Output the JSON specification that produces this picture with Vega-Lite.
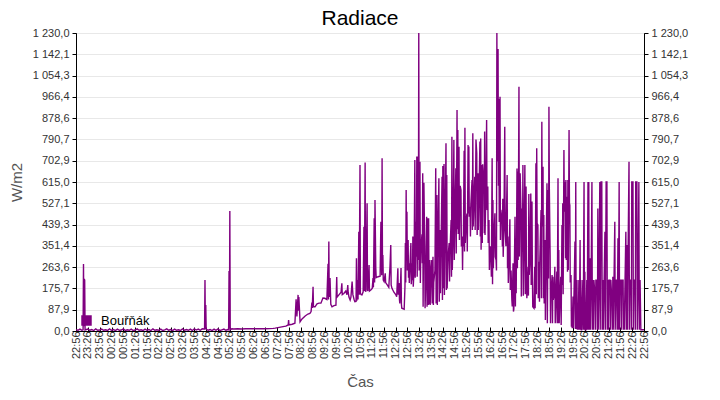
{
  "$schema": "https://vega.github.io/schema/vega-lite/v6.json",
  "width": 568,
  "height": 298,
  "autosize": "none",
  "padding": {"left": 76, "top": 33, "right": 76, "bottom": 69},
  "title": {"text": "Radiace", "fontSize": 21, "font": "Liberation Sans", "fontWeight": "normal", "color": "#000", "offset": -2, "anchor": "middle"},
  "data": {
    "values": [
      {"t":0,"v":5},{"t":5,"v":3},{"t":10,"v":8},{"t":15,"v":3},{"t":18,"v":5},{"t":19,"v":277},{"t":20,"v":20},{"t":21,"v":215},{"t":22,"v":210},{"t":23,"v":4},
      {"t":30,"v":8},{"t":35,"v":3},{"t":40,"v":6},{"t":45,"v":2},{"t":50,"v":9},{"t":55,"v":3},{"t":60,"v":4},{"t":65,"v":8},{"t":70,"v":3},{"t":75,"v":5},
      {"t":80,"v":2},{"t":85,"v":9},{"t":90,"v":3},{"t":95,"v":6},{"t":100,"v":2},{"t":105,"v":8},{"t":110,"v":3},{"t":115,"v":4},{"t":120,"v":9},{"t":125,"v":2},
      {"t":130,"v":5},{"t":135,"v":3},{"t":140,"v":8},{"t":145,"v":2},{"t":150,"v":4},{"t":155,"v":9},{"t":160,"v":3},{"t":165,"v":5},{"t":170,"v":2},{"t":175,"v":8},
      {"t":180,"v":3},{"t":185,"v":6},{"t":190,"v":2},{"t":195,"v":9},{"t":200,"v":3},{"t":205,"v":5},{"t":210,"v":3},{"t":215,"v":8},{"t":220,"v":2},{"t":225,"v":5},
      {"t":230,"v":9},{"t":235,"v":3},{"t":240,"v":6},{"t":245,"v":2},{"t":250,"v":8},{"t":255,"v":3},{"t":260,"v":5},{"t":265,"v":2},{"t":270,"v":9},{"t":275,"v":3},
      {"t":280,"v":6},{"t":285,"v":3},{"t":290,"v":8},{"t":295,"v":2},{"t":300,"v":9},{"t":305,"v":4},{"t":310,"v":8},{"t":315,"v":3},{"t":320,"v":9},{"t":325,"v":8},
      {"t":326,"v":8},{"t":327,"v":210},{"t":328,"v":8},{"t":329,"v":107},{"t":330,"v":8},{"t":335,"v":3},{"t":340,"v":6},{"t":345,"v":2},{"t":350,"v":8},{"t":355,"v":3},
      {"t":360,"v":9},{"t":365,"v":2},{"t":370,"v":5},{"t":375,"v":8},{"t":380,"v":3},{"t":385,"v":6},{"t":387,"v":5},{"t":388,"v":248},{"t":389,"v":10},{"t":390,"v":495},
      {"t":391,"v":5},{"t":395,"v":9},{"t":400,"v":8},{"t":410,"v":9},{"t":420,"v":8},{"t":430,"v":9},{"t":440,"v":9},{"t":450,"v":9},{"t":460,"v":9},{"t":470,"v":9},
      {"t":480,"v":9},{"t":490,"v":10},{"t":500,"v":11},{"t":505,"v":12},{"t":512,"v":14},{"t":525,"v":18},{"t":532,"v":20},{"t":538,"v":25},{"t":539,"v":45},{"t":540,"v":25},
      {"t":548,"v":28},{"t":555,"v":32},{"t":558,"v":131},{"t":560,"v":60},{"t":563,"v":149},{"t":564,"v":84},{"t":565,"v":140},{"t":568,"v":38},{"t":573,"v":50},{"t":581,"v":62},
      {"t":588,"v":70},{"t":593,"v":73},{"t":596,"v":80},{"t":598,"v":117},{"t":599,"v":95},{"t":601,"v":183},{"t":602,"v":100},{"t":606,"v":100},{"t":611,"v":112},{"t":616,"v":115},
      {"t":621,"v":115},{"t":626,"v":136},{"t":631,"v":135},{"t":636,"v":130},{"t":639,"v":277},{"t":640,"v":130},{"t":641,"v":369},{"t":642,"v":140},{"t":644,"v":219},{"t":646,"v":110},
      {"t":649,"v":100},{"t":654,"v":105},{"t":659,"v":107},{"t":661,"v":223},{"t":662,"v":140},{"t":667,"v":150},{"t":672,"v":160},{"t":674,"v":197},{"t":675,"v":150},{"t":679,"v":155},
      {"t":684,"v":165},{"t":687,"v":150},{"t":689,"v":190},{"t":690,"v":160},{"t":692,"v":140},{"t":695,"v":128},{"t":697,"v":140},{"t":700,"v":204},{"t":702,"v":150},{"t":705,"v":130},
      {"t":707,"v":121},{"t":710,"v":122},{"t":711,"v":300},{"t":712,"v":125},{"t":713,"v":210},{"t":715,"v":130},{"t":717,"v":410},{"t":718,"v":150},{"t":720,"v":685},{"t":721,"v":155},
      {"t":723,"v":150},{"t":725,"v":149},{"t":728,"v":162},{"t":730,"v":430},{"t":731,"v":165},{"t":733,"v":695},{"t":734,"v":162},{"t":735,"v":165},{"t":738,"v":527},{"t":739,"v":170},
      {"t":740,"v":165},{"t":743,"v":272},{"t":744,"v":165},{"t":748,"v":170},{"t":751,"v":176},{"t":753,"v":219},{"t":754,"v":180},{"t":756,"v":465},{"t":757,"v":200},{"t":758,"v":541},
      {"t":760,"v":261},{"t":761,"v":220},{"t":766,"v":224},{"t":771,"v":226},{"t":773,"v":451},{"t":775,"v":230},{"t":776,"v":713},{"t":777,"v":260},{"t":778,"v":314},{"t":779,"v":210},
      {"t":781,"v":204},{"t":784,"v":238},{"t":785,"v":200},{"t":789,"v":190},{"t":791,"v":185},{"t":793,"v":180},{"t":796,"v":265},{"t":798,"v":355},{"t":799,"v":190},{"t":801,"v":176},
      {"t":806,"v":160},{"t":811,"v":149},{"t":813,"v":142},{"t":816,"v":259},{"t":817,"v":150},{"t":819,"v":198},{"t":820,"v":130},{"t":821,"v":114},{"t":824,"v":260},{"t":825,"v":110},
      {"t":826,"v":94},{"t":832,"v":90},{"t":834,"v":183},{"t":835,"v":363},{"t":836,"v":200},{"t":837,"v":582},{"t":838,"v":300},{"t":839,"v":492},{"t":840,"v":250},{"t":842,"v":376},
      {"t":843,"v":220},{"t":844,"v":280},{"t":845,"v":198},{"t":849,"v":363},{"t":850,"v":193},{"t":852,"v":280},{"t":853,"v":210},{"t":854,"v":390},{"t":855,"v":183},{"t":857,"v":250},
      {"t":859,"v":706},{"t":860,"v":220},{"t":862,"v":451},{"t":863,"v":306},{"t":864,"v":720},{"t":865,"v":224},{"t":867,"v":720},{"t":868,"v":293},{"t":869,"v":1230},{"t":870,"v":250},
      {"t":872,"v":699},{"t":873,"v":198},{"t":874,"v":320},{"t":877,"v":399},{"t":878,"v":280},{"t":879,"v":651},{"t":880,"v":100},{"t":882,"v":612},{"t":884,"v":355},{"t":885,"v":94},
      {"t":887,"v":220},{"t":889,"v":472},{"t":890,"v":100},{"t":892,"v":465},{"t":893,"v":107},{"t":894,"v":465},{"t":895,"v":110},{"t":897,"v":293},{"t":898,"v":107},{"t":900,"v":250},
      {"t":902,"v":293},{"t":903,"v":114},{"t":905,"v":306},{"t":906,"v":107},{"t":907,"v":200},{"t":910,"v":250},{"t":912,"v":672},{"t":913,"v":114},{"t":915,"v":561},{"t":916,"v":107},
      {"t":917,"v":300},{"t":920,"v":630},{"t":921,"v":121},{"t":923,"v":417},{"t":924,"v":156},{"t":925,"v":300},{"t":928,"v":637},{"t":929,"v":128},{"t":930,"v":681},{"t":931,"v":176},
      {"t":933,"v":689},{"t":934,"v":149},{"t":935,"v":300},{"t":938,"v":775},{"t":939,"v":169},{"t":940,"v":644},{"t":941,"v":176},{"t":943,"v":300},{"t":946,"v":363},{"t":947,"v":204},
      {"t":948,"v":320},{"t":951,"v":458},{"t":952,"v":224},{"t":953,"v":802},{"t":954,"v":252},{"t":956,"v":400},{"t":958,"v":788},{"t":959,"v":293},{"t":961,"v":500},{"t":963,"v":672},
      {"t":964,"v":320},{"t":966,"v":912},{"t":967,"v":420},{"t":968,"v":830},{"t":969,"v":400},{"t":971,"v":761},{"t":972,"v":376},{"t":974,"v":599},{"t":976,"v":582},{"t":977,"v":349},
      {"t":979,"v":390},{"t":980,"v":252},{"t":981,"v":390},{"t":982,"v":349},{"t":984,"v":744},{"t":985,"v":328},{"t":986,"v":839},{"t":987,"v":363},{"t":989,"v":450},{"t":991,"v":485},
      {"t":992,"v":328},{"t":994,"v":768},{"t":995,"v":485},{"t":996,"v":761},{"t":997,"v":472},{"t":999,"v":513},{"t":1000,"v":390},{"t":1001,"v":520},{"t":1004,"v":623},{"t":1005,"v":417},
      {"t":1006,"v":816},{"t":1007,"v":431},{"t":1009,"v":550},{"t":1011,"v":637},{"t":1012,"v":417},{"t":1014,"v":790},{"t":1016,"v":734},{"t":1017,"v":396},{"t":1019,"v":651},{"t":1020,"v":417},
      {"t":1021,"v":500},{"t":1024,"v":782},{"t":1025,"v":390},{"t":1026,"v":795},{"t":1027,"v":335},{"t":1029,"v":685},{"t":1030,"v":363},{"t":1031,"v":688},{"t":1034,"v":610},{"t":1035,"v":403},
      {"t":1036,"v":823},{"t":1037,"v":396},{"t":1039,"v":560},{"t":1041,"v":871},{"t":1042,"v":499},{"t":1044,"v":596},{"t":1045,"v":363},{"t":1047,"v":458},{"t":1048,"v":252},{"t":1050,"v":350},
      {"t":1052,"v":314},{"t":1053,"v":224},{"t":1055,"v":713},{"t":1056,"v":193},{"t":1057,"v":541},{"t":1058,"v":259},{"t":1060,"v":400},{"t":1062,"v":486},{"t":1063,"v":306},{"t":1065,"v":293},
      {"t":1066,"v":250},{"t":1067,"v":1230},{"t":1068,"v":700},{"t":1070,"v":1164},{"t":1071,"v":600},{"t":1072,"v":958},{"t":1073,"v":450},{"t":1075,"v":967},{"t":1076,"v":376},{"t":1077,"v":500},
      {"t":1080,"v":458},{"t":1081,"v":349},{"t":1082,"v":546},{"t":1083,"v":306},{"t":1085,"v":450},{"t":1087,"v":843},{"t":1088,"v":417},{"t":1090,"v":350},{"t":1093,"v":644},{"t":1094,"v":259},
      {"t":1095,"v":390},{"t":1096,"v":198},{"t":1098,"v":300},{"t":1100,"v":461},{"t":1101,"v":169},{"t":1103,"v":250},{"t":1105,"v":128},{"t":1106,"v":101},{"t":1108,"v":280},{"t":1109,"v":80},
      {"t":1110,"v":90},{"t":1113,"v":472},{"t":1114,"v":101},{"t":1115,"v":383},{"t":1116,"v":156},{"t":1118,"v":671},{"t":1119,"v":259},{"t":1120,"v":658},{"t":1121,"v":293},{"t":1123,"v":1008},
      {"t":1124,"v":307},{"t":1126,"v":651},{"t":1128,"v":506},{"t":1129,"v":142},{"t":1131,"v":506},{"t":1132,"v":327},{"t":1133,"v":685},{"t":1134,"v":146},{"t":1136,"v":400},{"t":1138,"v":685},
      {"t":1139,"v":152},{"t":1141,"v":596},{"t":1142,"v":200},{"t":1143,"v":135},{"t":1146,"v":265},{"t":1147,"v":146},{"t":1148,"v":565},{"t":1149,"v":231},{"t":1151,"v":300},{"t":1153,"v":568},
      {"t":1154,"v":190},{"t":1156,"v":534},{"t":1157,"v":245},{"t":1158,"v":100},{"t":1161,"v":94},{"t":1163,"v":265},{"t":1164,"v":94},{"t":1166,"v":692},{"t":1167,"v":152},{"t":1168,"v":754},
      {"t":1169,"v":445},{"t":1171,"v":438},{"t":1172,"v":135},{"t":1174,"v":286},{"t":1175,"v":121},{"t":1176,"v":300},{"t":1179,"v":499},{"t":1180,"v":135},{"t":1181,"v":864},{"t":1182,"v":431},
      {"t":1184,"v":678},{"t":1185,"v":135},{"t":1186,"v":479},{"t":1187,"v":114},{"t":1189,"v":376},{"t":1190,"v":45},{"t":1191,"v":200},{"t":1194,"v":610},{"t":1195,"v":32},{"t":1197,"v":582},
      {"t":1198,"v":217},{"t":1199,"v":926},{"t":1200,"v":589},{"t":1202,"v":314},{"t":1203,"v":32},{"t":1204,"v":150},{"t":1207,"v":231},{"t":1208,"v":32},{"t":1209,"v":224},{"t":1210,"v":128},
      {"t":1212,"v":150},{"t":1214,"v":265},{"t":1215,"v":32},{"t":1217,"v":150},{"t":1219,"v":245},{"t":1220,"v":32},{"t":1222,"v":630},{"t":1223,"v":32},{"t":1224,"v":334},{"t":1225,"v":32},
      {"t":1227,"v":150},{"t":1229,"v":224},{"t":1230,"v":25},{"t":1232,"v":438},{"t":1233,"v":190},{"t":1234,"v":527},{"t":1235,"v":152},{"t":1237,"v":747},{"t":1238,"v":492},{"t":1240,"v":615},
      {"t":1241,"v":300},{"t":1242,"v":623},{"t":1243,"v":293},{"t":1245,"v":554},{"t":1246,"v":245},{"t":1247,"v":623},{"t":1248,"v":252},{"t":1250,"v":830},{"t":1251,"v":527},{"t":1252,"v":520},
      {"t":1253,"v":200},{"t":1255,"v":231},{"t":1256,"v":18},{"t":1257,"v":73},{"t":1258,"v":11},{"t":1260,"v":142},{"t":1261,"v":11},{"t":1262,"v":100},{"t":1265,"v":369},{"t":1266,"v":8},
      {"t":1267,"v":615},{"t":1268,"v":8},{"t":1270,"v":210},{"t":1271,"v":5},{"t":1272,"v":107},{"t":1273,"v":5},{"t":1275,"v":210},{"t":1276,"v":5},{"t":1278,"v":376},{"t":1279,"v":5},
      {"t":1280,"v":210},{"t":1281,"v":5},{"t":1282,"v":5},{"t":1285,"v":210},{"t":1286,"v":5},{"t":1288,"v":615},{"t":1289,"v":5},{"t":1290,"v":245},{"t":1291,"v":5},{"t":1293,"v":5},
      {"t":1295,"v":210},{"t":1296,"v":5},{"t":1298,"v":615},{"t":1299,"v":5},{"t":1300,"v":615},{"t":1301,"v":5},{"t":1303,"v":300},{"t":1304,"v":5},{"t":1306,"v":210},{"t":1308,"v":615},
      {"t":1309,"v":5},{"t":1311,"v":210},{"t":1312,"v":5},{"t":1313,"v":210},{"t":1316,"v":142},{"t":1317,"v":5},{"t":1318,"v":210},{"t":1321,"v":210},{"t":1322,"v":5},{"t":1323,"v":506},
      {"t":1324,"v":5},{"t":1326,"v":210},{"t":1328,"v":615},{"t":1329,"v":5},{"t":1331,"v":615},{"t":1333,"v":615},{"t":1334,"v":5},{"t":1336,"v":210},{"t":1337,"v":5},{"t":1339,"v":210},
      {"t":1341,"v":410},{"t":1342,"v":5},{"t":1344,"v":615},{"t":1346,"v":615},{"t":1347,"v":5},{"t":1349,"v":210},{"t":1350,"v":5},{"t":1351,"v":210},{"t":1354,"v":210},{"t":1355,"v":5},
      {"t":1356,"v":210},{"t":1359,"v":107},{"t":1360,"v":5},{"t":1361,"v":224},{"t":1362,"v":5},{"t":1364,"v":210},{"t":1366,"v":451},{"t":1367,"v":5},{"t":1369,"v":210},{"t":1371,"v":210},
      {"t":1372,"v":5},{"t":1374,"v":383},{"t":1375,"v":5},{"t":1377,"v":615},{"t":1378,"v":5},{"t":1379,"v":210},{"t":1382,"v":210},{"t":1383,"v":5},{"t":1384,"v":210},{"t":1387,"v":210},
      {"t":1388,"v":5},{"t":1389,"v":101},{"t":1390,"v":5},{"t":1392,"v":210},{"t":1394,"v":410},{"t":1395,"v":5},{"t":1397,"v":355},{"t":1398,"v":5},{"t":1399,"v":210},{"t":1402,"v":699},
      {"t":1403,"v":5},{"t":1404,"v":210},{"t":1407,"v":210},{"t":1408,"v":5},{"t":1409,"v":615},{"t":1412,"v":615},{"t":1413,"v":5},{"t":1414,"v":210},{"t":1417,"v":210},{"t":1418,"v":5},
      {"t":1419,"v":615},{"t":1422,"v":615},{"t":1423,"v":5},{"t":1425,"v":210},{"t":1427,"v":615},{"t":1428,"v":5},{"t":1430,"v":210},{"t":1432,"v":5},{"t":1435,"v":5},{"t":1437,"v":5},
      {"t":1440,"v":5}
    ]
  },
  "layer": [
    {
      "mark": {"type": "line", "strokeWidth": 1.4, "clip": true},
      "encoding": {
        "x": {
          "field": "t",
          "type": "quantitative",
          "title": "Čas",
          "scale": {"domain": [0, 1440], "nice": false, "zero": false},
          "axis": {
            "values": [0,30,60,90,120,150,180,210,240,270,300,330,360,390,420,450,480,510,540,570,600,630,660,690,720,750,780,810,840,870,900,930,960,990,1020,1050,1080,1110,1140,1170,1200,1230,1260,1290,1320,1350,1380,1410,1440],
            "labelExpr": "slice('0' + floor(((datum.value + 1376) % 1440) / 60), -2) + ':' + ((datum.value + 56) % 60)",
            "labelAngle": 270,
            "labelFlush": false,
            "labelOverlap": false,
            "labelBound": false,
            "labelSeparation": 0,
            "tickSize": -4,
            "labelPadding": 4,
            "grid": false,
            "titlePadding": 16
          }
        },
        "y": {
          "field": "v",
          "type": "quantitative",
          "title": "W/m2",
          "scale": {"domain": [0, 1230], "nice": false},
          "axis": {
            "values": [0, 87.857142857, 175.714285714, 263.571428571, 351.428571429, 439.285714286, 527.142857143, 615, 702.857142857, 790.714285714, 878.571428571, 966.428571429, 1054.285714286, 1142.142857143, 1230],
            "labelExpr": "replace(replace(format(datum.value, ',.1f'), ',', ' '), '.', ',')",
            "grid": true,
            "gridColor": "#e8e8e8",
            "tickSize": 4,
            "labelPadding": 3,
            "labelOverlap": false,
            "labelFlush": false,
            "titlePadding": 8
          }
        },
        "color": {
          "datum": "Bouřňák",
          "type": "nominal",
          "scale": {"range": ["#800080"]},
          "legend": {
            "title": null,
            "orient": "none",
            "legendX": 4,
            "legendY": 281,
            "padding": 0,
            "symbolType": "square",
            "symbolSize": 110,
            "symbolFillColor": "#800080",
            "symbolStrokeColor": "#800080",
            "symbolStrokeWidth": 0,
            "labelFontSize": 13,
            "labelColor": "#000",
            "labelOffset": 8
          }
        }
      }
    },
    {
      "mark": {"type": "rule", "opacity": 0},
      "encoding": {
        "y": {
          "datum": 0,
          "type": "quantitative",
          "title": "W/m2",
          "axis": {
            "orient": "right",
            "values": [0, 87.857142857, 175.714285714, 263.571428571, 351.428571429, 439.285714286, 527.142857143, 615, 702.857142857, 790.714285714, 878.571428571, 966.428571429, 1054.285714286, 1142.142857143, 1230],
            "labelExpr": "replace(replace(format(datum.value, ',.1f'), ',', ' '), '.', ',')",
            "grid": false,
            "tickSize": 4,
            "labelPadding": 3,
            "labelOverlap": false,
            "labelFlush": false,
            "titleAngle": 270,
            "titleBaseline": "top",
            "titlePadding": 8
          }
        }
      }
    }
  ],
  "resolve": {"axis": {"y": "independent"}},
  "config": {
    "font": "Liberation Sans",
    "view": {"stroke": "#000", "strokeWidth": 1},
    "axis": {
      "domainColor": "#000",
      "tickColor": "#000",
      "labelFont": "Liberation Sans",
      "labelFontSize": 11,
      "labelColor": "#333",
      "titleFont": "Liberation Sans",
      "titleFontSize": 15,
      "titleFontWeight": "normal",
      "titleColor": "#555"
    },
    "legend": {"labelFont": "Liberation Sans"}
  }
}
